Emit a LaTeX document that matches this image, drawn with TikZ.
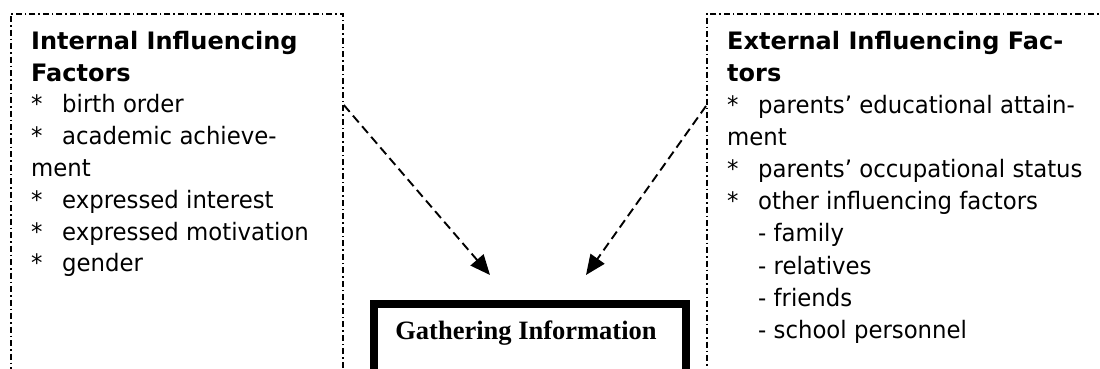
\documentclass[tikz,border=0pt]{standalone}
\usepackage{fontspec}
\setmainfont{DejaVu Sans}[FakeStretch=0.95]
\newfontfamily\hdfont{DejaVu Sans}
\newfontfamily\serifbf{Liberation Serif}
\usetikzlibrary{arrows.meta}
\tikzset{
  ddbox/.style={draw, line width=1.8pt, dash pattern=on 6pt off 3pt on 1.5pt off 3pt, rectangle, inner sep=0pt, anchor=north west},
  txt/.style={anchor=base west, inner sep=0pt, font=\fontsize{24}{30}\selectfont},
  hd/.style={txt, font=\hdfont\fontsize{24}{30}\selectfont\bfseries},
  thick box/.style={draw, line width=8pt, rectangle, inner sep=0pt, anchor=north west},
  arr/.style={line width=1.9pt, dash pattern=on 9pt off 5pt, -{Triangle[length=20pt,width=17pt]}},
}
\newcommand{\myast}{\makebox[31pt][l]{*}}
\newcommand{\myind}{\makebox[31pt][l]{}}
\begin{document}
\begin{tikzpicture}[x=1pt,y=-1pt]
\useasboundingbox (0,0) rectangle (1100,368);
\clip (0,0) rectangle (1100,368);
% boxes
\node[ddbox, minimum width=332pt, minimum height=400pt] (lbox) at (10,12.7) {};
\node[ddbox, minimum width=500pt, minimum height=400pt] (rbox) at (706,12.7) {};
\node[thick box, minimum width=312pt, minimum height=100pt] (gather) at (370,300) {};
\node[anchor=base, inner sep=0pt, font=\serifbf\fontsize{26.5}{30}\selectfont\bfseries] (gtext) at (526,339) {Gathering Information};
% left text
\node[hd] (l1) at (31,49.3) {Internal Influencing};
\node[hd] (l2) at (31,81.1) {Factors};
\node[txt] (l3) at (31,112.9) {\myast birth order};
\node[txt] (l4) at (31,144.7) {\myast academic achieve-};
\node[txt] (l5) at (31,176.5) {ment};
\node[txt] (l6) at (31,208.3) {\myast expressed interest};
\node[txt] (l7) at (31,240.1) {\myast expressed motivation};
\node[txt] (l8) at (31,271.9) {\myast gender};
% right text
\node[hd] (r1) at (727,49.3) {External Influencing Fac-};
\node[hd] (r2) at (727,81.4) {tors};
\node[txt] (r3) at (727,113.5) {\myast parents’ educational attain-};
\node[txt] (r4) at (727,145.6) {ment};
\node[txt] (r5) at (727,177.7) {\myast parents’ occupational status};
\node[txt] (r6) at (727,209.8) {\myast other influencing factors};
\node[txt] (r7) at (727,241.9) {\myind- family};
\node[txt] (r8) at (727,274.0) {\myind- relatives};
\node[txt] (r9) at (727,306.1) {\myind- friends};
\node[txt] (r10) at (727,338.2) {\myind- school personnel};
% arrows
\coordinate (ls) at (lbox.north east |- 0,105);
\coordinate (rs) at (rbox.north west |- 0,106);
\coordinate (lt) at (490,275);
\coordinate (rt) at (586,275);
\draw[arr] (ls) -- (lt);
\draw[arr] (rs) -- (rt);
\end{tikzpicture}
\end{document}
